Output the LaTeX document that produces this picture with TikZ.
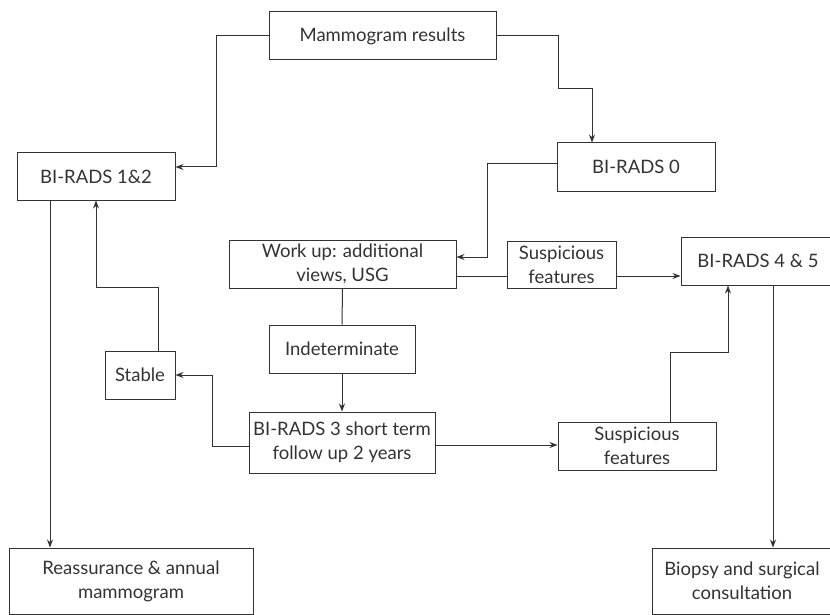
\documentclass[tikz,border=0pt]{standalone}
\usepackage{fontspec}
\setmainfont{Lato}
\usetikzlibrary{arrows.meta}
\definecolor{ink}{HTML}{333333}
\tikzset{
  box/.style={draw=ink, line width=1pt, rectangle, inner sep=2pt, align=center,
    text=ink, font=\fontsize{18.5}{24}\selectfont},
  conn/.style={draw=ink, line width=1pt},
  arr/.style={conn, -{Stealth[length=8pt,width=6pt]}},
}
\begin{document}
\begin{tikzpicture}[x=1pt,y=-1pt]
\useasboundingbox (0,0) rectangle (830,615);
\clip (0,0) rectangle (830,615);
\node[box, minimum width=227pt, minimum height=48pt] (mr) at (382.5,36) {Mammogram results};
\node[box, minimum width=158pt, minimum height=47pt] (b12) at (96,176.5) {BI-RADS 1\&2};
\node[box, minimum width=158pt, minimum height=48pt] (b0) at (636,167) {BI-RADS 0};
\node[box, minimum width=227pt, minimum height=48pt] (wu) at (342.5,264) {Work up: additional\\views, USG};
\node[box, minimum width=109pt, minimum height=47pt] (sf1) at (561.5,264.5) {Suspicious\\features};
\node[box, minimum width=154pt, minimum height=48pt] (b45) at (758,261) {BI-RADS 4 \& 5};
\node[box, minimum width=146pt, minimum height=48pt] (ind) at (342,349) {Indeterminate};
\node[box, minimum width=70pt, minimum height=48pt] (st) at (140,375) {Stable};
\node[box, minimum width=186pt, minimum height=61pt] (b3) at (342,442.5) {BI-RADS 3 short term\\follow up 2 years};
\node[box, minimum width=158pt, minimum height=48pt] (sf2) at (637,446) {Suspicious\\features};
\node[box, minimum width=244pt, minimum height=66pt] (re) at (131,581) {Reassurance \& annual\\mammogram};
\node[box, minimum width=180pt, minimum height=66pt] (bi) at (742,581) {Biopsy and surgical\\consultation};

\draw[arr] (mr.west) -- ++(-52,0) |- ([yshift=9.5pt]b12.east);
\draw[arr] (mr.east) -- ++(62,0) -- ++(0,53) -| ([xshift=-44pt]b0.north);
\draw[arr] ([yshift=3pt]b0.west) -- ++(-69,0) |- ([yshift=7pt]wu.east);
\draw[conn] ([yshift=-12pt]wu.east) -- ([yshift=-12pt]wu.east -| sf1.west);
\draw[arr] ([yshift=-11.5pt]sf1.east) -- ([yshift=-11.5pt]sf1.east -| b45.west);
\draw[conn] (wu.south) -- (ind.north);
\draw[arr] (ind.south) -- (b3.north);
\draw[arr] ([yshift=-3.5pt]b3.west) -- ++(-36,0) |- (st.east);
\draw[arr] ([xshift=18pt]st.north) -- ++(0,-63) -| (b12.south);
\draw[arr] ([xshift=-46pt]b12.south) -- ([xshift=-46pt]b12.south |- re.north);
\draw[arr] ([yshift=-2.5pt]b3.east) -- ([yshift=-2.5pt]b3.east -| sf2.west);
\draw[arr] ([xshift=33pt]sf2.north) -- ++(0,-69) -| ([xshift=-30pt]b45.south);
\draw[arr] ([xshift=15pt]b45.south) -- ([xshift=15pt]b45.south |- bi.north);
\end{tikzpicture}
\end{document}
